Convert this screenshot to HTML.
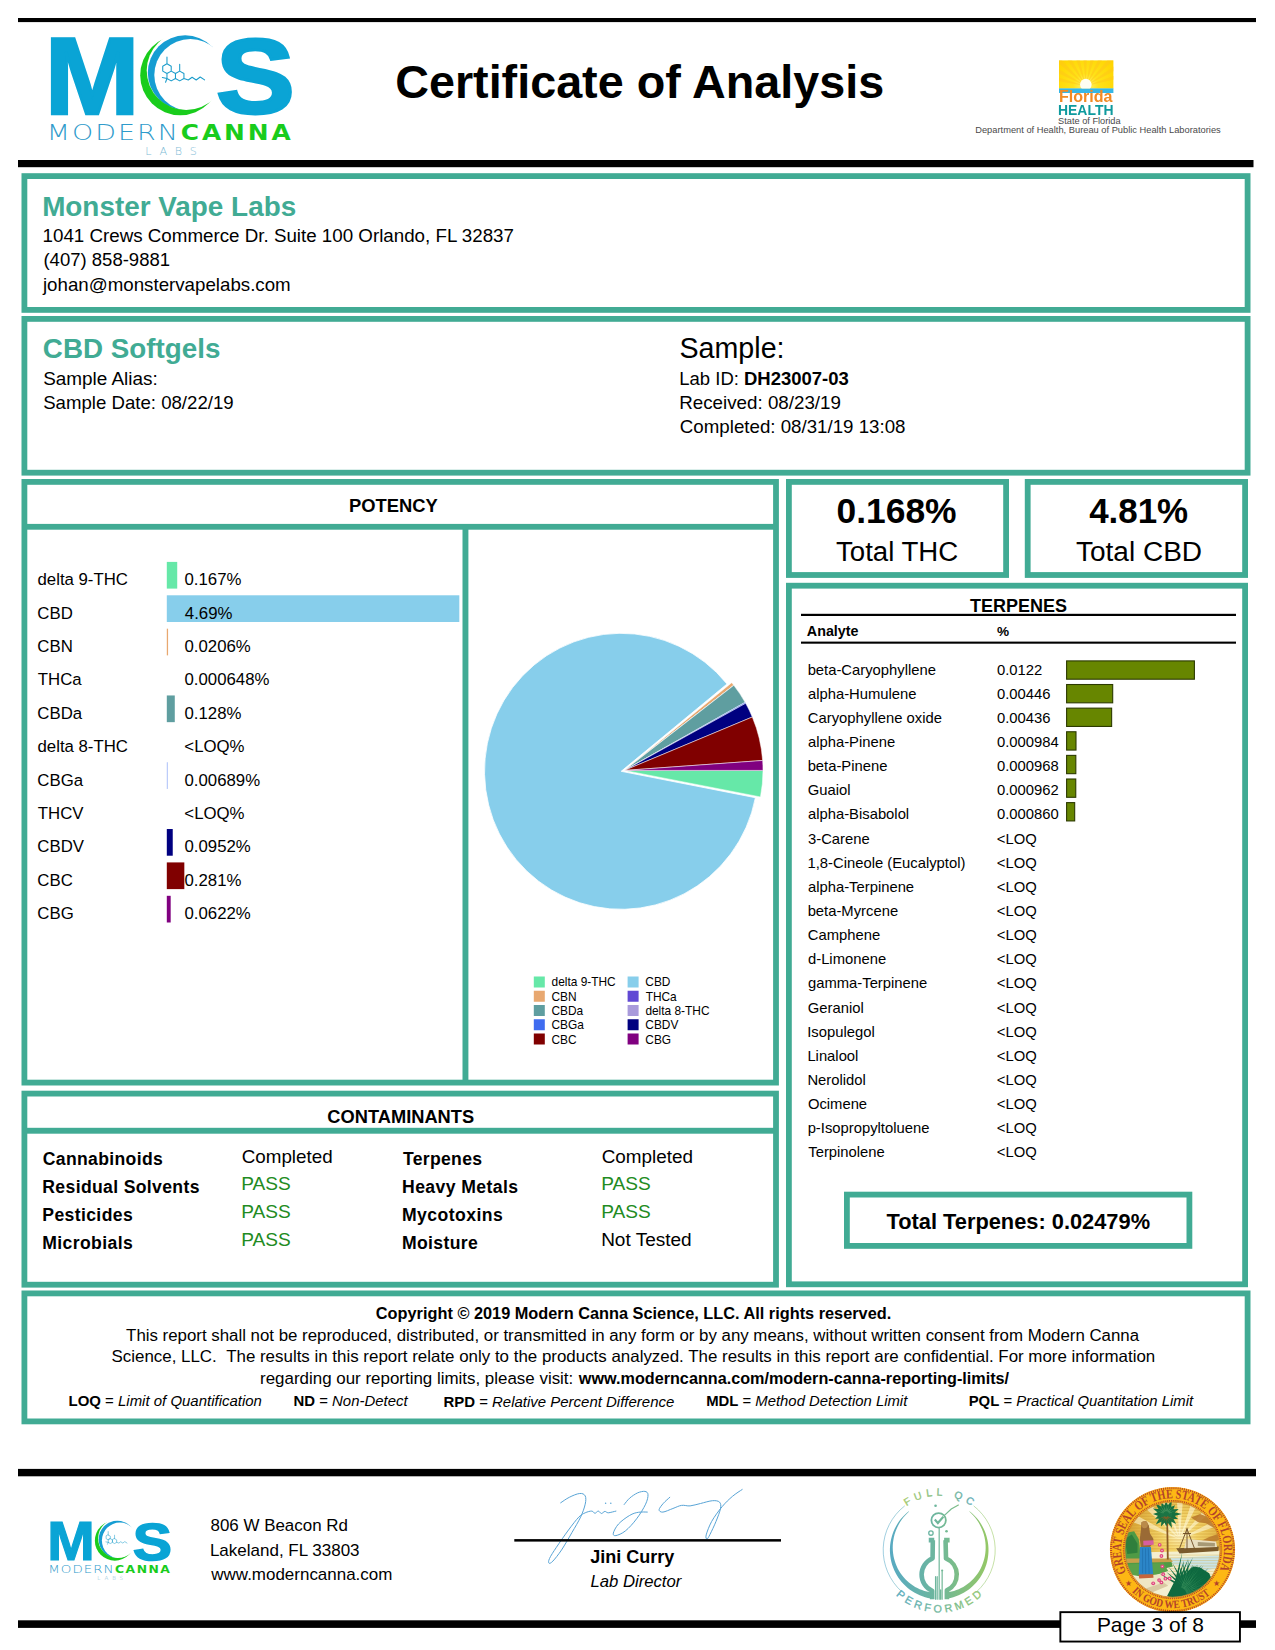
<!DOCTYPE html>
<html lang="en"><head><meta charset="utf-8"><title>Certificate of Analysis</title>
<style>
html,body{margin:0;padding:0;background:#fff;}
body{width:1275px;height:1650px;position:relative;overflow:hidden;font-family:"Liberation Sans",Arial,Helvetica,sans-serif;color:#000;}
.t{position:absolute;white-space:nowrap;line-height:1;}
.r{position:absolute;box-sizing:content-box;}
svg{position:absolute;left:0;top:0;overflow:visible;}
</style></head><body>
<svg width="1275" height="1650" viewBox="0 0 1275 1650">
<rect x="18.00" y="18.00" width="1238.00" height="4.10" fill="#000" />
<rect x="18.00" y="160.00" width="1235.50" height="7.20" fill="#000" />
<g transform="translate(0.00,0.00) scale(1)">
<text transform="translate(44.55,114.40) scale(1.0426,1)" font-size="109.74" font-weight="700" fill="#0aa4d5" stroke="#0aa4d5" stroke-width="2.4" stroke-linejoin="miter">M</text>
<text transform="translate(216.10,112.97) scale(1.1201,1)" font-size="105.51" font-weight="700" fill="#0aa4d5" stroke="#0aa4d5" stroke-width="3.0" stroke-linejoin="miter">S</text>
<defs><mask id="hmb"><rect x="100" y="20" width="140" height="110" fill="#fff"/><circle cx="190.36" cy="74.96" r="36.05" fill="#000"/></mask><mask id="hmg"><rect x="100" y="20" width="140" height="110" fill="#fff"/><circle cx="186.2" cy="70.6" r="39.5" fill="#000"/></mask></defs>
<circle cx="185.2" cy="72.7" r="37.4" fill="#169dd2" mask="url(#hmb)"/>
<circle cx="180.2" cy="75.2" r="40" fill="#19cc1c" mask="url(#hmg)"/>
<path d="M166.97,63.75 L171.21,66.20 L171.21,71.10 L166.97,73.55 L162.73,71.10 L162.73,66.20Z M171.21,71.10 L175.46,73.55 L175.46,78.45 L171.21,80.90 L166.97,78.45 L166.97,73.55Z M179.70,71.10 L183.94,73.55 L183.94,78.45 L179.70,80.90 L175.46,78.45 L175.46,73.55Z M166.97,63.75 V57.0 M179.70,71.10 V64.2 M166.97,78.45 L162.37,77.55 M166.97,78.45 L165.57,82.25 M183.94,78.45 L188.3,80 L192.1,77.3 L196.2,80 L200.2,77 L204.6,79.9" fill="none" stroke="#1a9ccb" stroke-width="1.05" stroke-linejoin="round" stroke-linecap="round"/>
<text transform="translate(46.78,139.9) scale(1.3,1)" font-family="'DejaVu Sans',sans-serif" font-weight="200" font-size="20.7" letter-spacing="1.55" fill="#2f9bcb">MODERN</text>
<text transform="translate(180.76,139.9) scale(1.2,1)" font-family="'DejaVu Sans',sans-serif" font-weight="700" font-size="20.7" letter-spacing="2.45" fill="#19cc1c">CANNA</text>
<text x="145.13" y="154.8" font-family="'DejaVu Sans',sans-serif" font-weight="200" font-size="11.2" letter-spacing="7.8" fill="#7fbcd6">LABS</text>
</g>
<g transform="translate(24.98,1503.21) scale(0.4985)">
<text transform="translate(44.55,114.40) scale(1.0426,1)" font-size="109.74" font-weight="700" fill="#0aa4d5" stroke="#0aa4d5" stroke-width="2.4" stroke-linejoin="miter">M</text>
<text transform="translate(216.10,112.97) scale(1.1201,1)" font-size="105.51" font-weight="700" fill="#0aa4d5" stroke="#0aa4d5" stroke-width="3.0" stroke-linejoin="miter">S</text>
<defs><mask id="fmb"><rect x="100" y="20" width="140" height="110" fill="#fff"/><circle cx="190.36" cy="74.96" r="36.05" fill="#000"/></mask><mask id="fmg"><rect x="100" y="20" width="140" height="110" fill="#fff"/><circle cx="186.2" cy="70.6" r="39.5" fill="#000"/></mask></defs>
<circle cx="185.2" cy="72.7" r="37.4" fill="#169dd2" mask="url(#fmb)"/>
<circle cx="180.2" cy="75.2" r="40" fill="#19cc1c" mask="url(#fmg)"/>
<path d="M166.97,63.75 L171.21,66.20 L171.21,71.10 L166.97,73.55 L162.73,71.10 L162.73,66.20Z M171.21,71.10 L175.46,73.55 L175.46,78.45 L171.21,80.90 L166.97,78.45 L166.97,73.55Z M179.70,71.10 L183.94,73.55 L183.94,78.45 L179.70,80.90 L175.46,78.45 L175.46,73.55Z M166.97,63.75 V57.0 M179.70,71.10 V64.2 M166.97,78.45 L162.37,77.55 M166.97,78.45 L165.57,82.25 M183.94,78.45 L188.3,80 L192.1,77.3 L196.2,80 L200.2,77 L204.6,79.9" fill="none" stroke="#1a9ccb" stroke-width="1.05" stroke-linejoin="round" stroke-linecap="round"/>
<text transform="translate(46.78,139.9) scale(1.3,1)" font-family="'DejaVu Sans',sans-serif" font-weight="200" font-size="20.7" letter-spacing="1.55" fill="#2f9bcb">MODERN</text>
<text transform="translate(180.76,139.9) scale(1.2,1)" font-family="'DejaVu Sans',sans-serif" font-weight="700" font-size="20.7" letter-spacing="2.45" fill="#19cc1c">CANNA</text>
<text x="145.13" y="154.8" font-family="'DejaVu Sans',sans-serif" font-weight="200" font-size="11.2" letter-spacing="7.8" fill="#7fbcd6">LABS</text>
</g>
<g>
<defs><clipPath id="fhc"><rect x="1059" y="60.4" width="54.4" height="32.4"/></clipPath><clipPath id="fhc2"><rect x="1059" y="60.4" width="54.4" height="28"/></clipPath><radialGradient id="fhg" cx="1085.8" cy="86" r="36" gradientUnits="userSpaceOnUse"><stop offset="0" stop-color="#fff27a"/><stop offset="0.35" stop-color="#ffe21a"/><stop offset="1" stop-color="#ffd400"/></radialGradient></defs>
<rect x="1059" y="60.4" width="54.4" height="28.2" fill="url(#fhg)"/>
<path d="M1085.8,86 L1026.7,75.6 L1028.4,68.5Z M1085.8,86 L1031.4,60.6 L1034.9,54.2Z M1085.8,86 L1039.8,47.4 L1044.9,42.1Z M1085.8,86 L1051.4,36.9 L1057.6,33.0Z M1085.8,86 L1065.3,29.6 L1072.3,27.5Z M1085.8,86 L1080.6,26.2 L1087.9,26.0Z M1085.8,86 L1096.2,26.9 L1103.3,28.6Z M1085.8,86 L1111.2,31.6 L1117.6,35.1Z M1085.8,86 L1124.4,40.0 L1129.7,45.1Z M1085.8,86 L1134.9,51.6 L1138.8,57.8Z M1085.8,86 L1142.2,65.5 L1144.3,72.5Z " fill="#ffc61a" opacity="0.55" clip-path="url(#fhc)"/>
<rect x="1059" y="88.4" width="54.4" height="4.6" fill="#35b6e6"/>
<circle cx="1085.8" cy="84.6" r="5.8" fill="#fffef2" clip-path="url(#fhc2)"/>
</g>
<g>
<defs><linearGradient id="qg" gradientUnits="userSpaceOnUse" x1="883.2" y1="0" x2="995.2" y2="0"><stop offset="0" stop-color="#55a8c8"/><stop offset="0.5" stop-color="#6fb79a"/><stop offset="1" stop-color="#9aca5e"/></linearGradient><linearGradient id="qg2" gradientUnits="userSpaceOnUse" x1="899.2" y1="0" x2="979.2" y2="0"><stop offset="0" stop-color="#a3c964"/><stop offset="0.55" stop-color="#7dba8a"/><stop offset="1" stop-color="#5aa9bd"/></linearGradient><path id="qtop" d="M884.80,1550.00 A54.4,54.4 0 0 1 993.60,1550.00"/><path id="qbot" d="M876.70,1550.00 A62.5,62.5 0 0 0 1001.70,1550.00"/></defs>
<path d="M901.73,1591.62 A56,56 0 0 1 904.72,1505.87 M973.68,1505.87 A56,56 0 0 1 976.67,1591.62" fill="none" stroke="url(#qg)" stroke-width="0.7" opacity="0.8"/>
<path d="M908.85,1511.15 L906.66,1512.96 L904.58,1514.90 L902.62,1516.95 L900.78,1519.11 L899.06,1521.37 L897.48,1523.73 L896.04,1526.17 L894.74,1528.70 L893.59,1531.29 L892.59,1533.95 L891.74,1536.66 L891.05,1539.41 L890.52,1542.20 L890.15,1545.02 L889.95,1547.85 L889.90,1550.69 L890.03,1553.52 L890.31,1556.35 L890.76,1559.15 L891.36,1561.93 L892.13,1564.66 L893.05,1567.35 L894.13,1569.97 L895.35,1572.53 L896.72,1575.02 L898.23,1577.43 L899.88,1579.74 L901.66,1581.95 L903.56,1584.06 L905.58,1586.06 L907.71,1587.93 L909.94,1589.68 L912.28,1591.30 L914.70,1592.78 L917.20,1594.12 L919.78,1595.31 L922.42,1596.36 L925.12,1597.25 L927.86,1597.98 L930.64,1598.55 L931.72,1592.45 L929.25,1592.07 L926.81,1591.55 L924.40,1590.90 L922.01,1590.10 L919.68,1589.16 L917.39,1588.09 L915.16,1586.88 L913.00,1585.54 L910.91,1584.08 L908.90,1582.49 L906.99,1580.78 L905.16,1578.97 L903.45,1577.04 L901.84,1575.01 L900.34,1572.89 L898.96,1570.68 L897.72,1568.38 L896.60,1566.01 L895.61,1563.58 L894.77,1561.08 L894.07,1558.53 L893.51,1555.93 L893.10,1553.30 L892.85,1550.65 L892.74,1547.97 L892.79,1545.29 L893.00,1542.60 L893.36,1539.92 L893.87,1537.26 L894.54,1534.62 L895.36,1532.02 L896.33,1529.46 L897.45,1526.95 L898.71,1524.50 L900.12,1522.12 L901.66,1519.82 L903.34,1517.59 L905.14,1515.46 L907.06,1513.42 L909.09,1511.47Z M969.55,1511.15 L971.74,1512.96 L973.82,1514.90 L975.78,1516.95 L977.62,1519.11 L979.34,1521.37 L980.92,1523.73 L982.36,1526.17 L983.66,1528.70 L984.81,1531.29 L985.81,1533.95 L986.66,1536.66 L987.35,1539.41 L987.88,1542.20 L988.25,1545.02 L988.45,1547.85 L988.50,1550.69 L988.37,1553.52 L988.09,1556.35 L987.64,1559.15 L987.04,1561.93 L986.27,1564.66 L985.35,1567.35 L984.27,1569.97 L983.05,1572.53 L981.68,1575.02 L980.17,1577.43 L978.52,1579.74 L976.74,1581.95 L974.84,1584.06 L972.82,1586.06 L970.69,1587.93 L968.46,1589.68 L966.12,1591.30 L963.70,1592.78 L961.20,1594.12 L958.62,1595.31 L955.98,1596.36 L953.28,1597.25 L950.54,1597.98 L947.76,1598.55 L946.68,1592.45 L949.15,1592.07 L951.59,1591.55 L954.00,1590.90 L956.39,1590.10 L958.72,1589.16 L961.01,1588.09 L963.24,1586.88 L965.40,1585.54 L967.49,1584.08 L969.50,1582.49 L971.41,1580.78 L973.24,1578.97 L974.95,1577.04 L976.56,1575.01 L978.06,1572.89 L979.44,1570.68 L980.68,1568.38 L981.80,1566.01 L982.79,1563.58 L983.63,1561.08 L984.33,1558.53 L984.89,1555.93 L985.30,1553.30 L985.55,1550.65 L985.66,1547.97 L985.61,1545.29 L985.40,1542.60 L985.04,1539.92 L984.53,1537.26 L983.86,1534.62 L983.04,1532.02 L982.07,1529.46 L980.95,1526.95 L979.69,1524.50 L978.28,1522.12 L976.74,1519.82 L975.06,1517.59 L973.26,1515.46 L971.34,1513.42 L969.31,1511.47Z" fill="url(#qg)"/>
<path d="M928.75,1540.17 L934.24,1540.17 M932.81,1540.17 L932.60,1557.36 L932.60,1558.36 A17.57,17.57 0 0 0 932.17,1590.76 L932.17,1599.14 M944.12,1540.17 L949.61,1540.17 M945.55,1540.17 L945.99,1557.46 L945.99,1558.46 A17.57,17.57 0 0 1 946.88,1590.44 L946.88,1599.14 " fill="none" stroke="url(#qg)" stroke-width="4.6" stroke-linejoin="round"/>
<path d="M939.18,1528.31 L939.18,1599.14 M944.67,1515.14 L951.26,1509.10 L958.39,1505.04 M935.55,1576.63 L935.55,1599.14 M937.20,1576.63 L937.20,1599.14 M940.61,1589.81 L940.61,1599.14 M942.14,1571.69 L942.14,1599.14 " fill="none" stroke="url(#qg)" stroke-width="1.2" stroke-linecap="round"/>
<circle cx="938.63" cy="1520.30" r="7.25" fill="none" stroke="url(#qg)" stroke-width="1.8"/>
<path d="M934.79,1519.53 L937.86,1523.04 L943.35,1516.78" fill="none" stroke="url(#qg)" stroke-width="2.1" stroke-linejoin="miter"/>
<circle cx="935.55" cy="1505.80" r="1.32" fill="url(#qg)"/>
<circle cx="946.53" cy="1531.28" r="1.32" fill="url(#qg)"/>
<circle cx="942.14" cy="1570.59" r="1.10" fill="url(#qg)"/>
<circle cx="930.94" cy="1533.04" r="2.20" fill="none" stroke="url(#qg)" stroke-width="1.3"/>
<text font-size="10.3" letter-spacing="4.3" fill="url(#qg2)" stroke="url(#qg2)" stroke-width="0.3" text-anchor="middle"><textPath href="#qtop" startOffset="51%">FULL QC</textPath></text>
<text font-size="10.8" letter-spacing="3.3" fill="url(#qg)" stroke="url(#qg)" stroke-width="0.3" text-anchor="middle"><textPath href="#qbot" startOffset="50.8%">PERFORMED</textPath></text>
</g>
<g>
<defs><clipPath id="fsc"><circle cx="1172.5" cy="1549.6" r="47.6"/></clipPath><radialGradient id="fsg" gradientUnits="userSpaceOnUse" cx="1179.6" cy="1533.5" r="50"><stop offset="0" stop-color="#fff6c8"/><stop offset="0.35" stop-color="#f3d56a"/><stop offset="1" stop-color="#d9a534"/></radialGradient><path id="fst" d="M1127.12,1573.73 A51.4,51.4 0 1 1 1217.88,1573.73"/><path id="fsb" d="M1121.75,1578.90 A58.6,58.6 0 0 0 1223.25,1578.90"/></defs>
<circle cx="1172.5" cy="1549.6" r="62.6" fill="#fdb714"/>
<circle cx="1172.5" cy="1549.6" r="61.4" fill="none" stroke="#b8472a" stroke-width="2" stroke-dasharray="1.1 1.0"/>
<circle cx="1172.5" cy="1549.6" r="48.8" fill="none" stroke="#b8472a" stroke-width="1.8" stroke-dasharray="1.0 0.9"/>
<g clip-path="url(#fsc)">
<circle cx="1172.5" cy="1549.6" r="48" fill="url(#fsg)"/>
<path d="M1122.5,1504.5 H1222.5 M1122.5,1507.4 H1222.5 M1122.5,1510.4 H1222.5 M1122.5,1513.3 H1222.5 M1122.5,1516.3 H1222.5 M1122.5,1519.2 H1222.5 M1122.5,1522.2 H1222.5 M1122.5,1525.1 H1222.5 M1122.5,1528.1 H1222.5 M1122.5,1531.1 H1222.5 M1122.5,1534.0 H1222.5 M1122.5,1537.0 H1222.5 M1122.5,1539.9 H1222.5 M1122.5,1542.9 H1222.5 M1122.5,1545.8 H1222.5 M1122.5,1548.8 H1222.5 " stroke="#c9922e" stroke-width="0.9" opacity="0.45"/>
<path d="M1179.6,1539.1 L1123.2,1518.6 L1127.1,1510.0Z M1179.6,1539.1 L1135.0,1499.0 L1141.8,1492.5Z M1179.6,1539.1 L1153.3,1485.2 L1162.1,1481.8Z M1179.6,1539.1 L1175.4,1479.3 L1184.8,1479.4Z M1179.6,1539.1 L1198.1,1482.1 L1206.8,1485.7Z M1179.6,1539.1 L1218.2,1493.2 L1224.9,1499.8Z M1179.6,1539.1 L1232.6,1511.0 L1236.3,1519.6Z " fill="#fffbe0" opacity="0.55"/>
<path d="M1191.0,1517.5 L1200.1,1514.1 L1209.2,1517.5 L1218.3,1525.5 L1213.7,1527.8 L1205.8,1523.2 L1197.8,1522.1Z" fill="#b6752a" opacity="0.85"/>
<path d="M1200.1,1541.4 L1209.2,1536.9 L1219.4,1533.5 L1220.6,1539.1 L1211.5,1543.7 L1202.4,1546.0Z" fill="#b6752a" opacity="0.8"/>
<path d="M1122.7,1552.8 L1222.8,1550.5 L1222.8,1605.1 L1122.7,1605.1Z" fill="#f4efcf"/>
<path d="M1168.2,1558.5 L1221.7,1555.1 L1221.7,1566.4 L1205.8,1571.0 L1172.8,1564.2Z" fill="#bfe0ea" opacity="0.8"/>
<path d="M1168.2,1555.1 H1222.5 M1168.2,1557.8 H1222.5 M1168.2,1560.5 H1222.5 M1168.2,1563.2 H1222.5 M1168.2,1566.0 H1222.5 M1168.2,1568.7 H1222.5 M1168.2,1571.4 H1222.5 M1168.2,1574.2 H1222.5 M1168.2,1576.9 H1222.5 " stroke="#d1b45c" stroke-width="0.7" opacity="0.6"/>
<path d="M1122.7,1533.5 L1134.1,1531.2 L1138.7,1539.1 L1139.8,1548.2 L1140.9,1559.6 L1159.1,1559.6 L1170.5,1558.5 L1172.8,1566.4 L1154.6,1571.0 L1137.5,1573.3 L1122.7,1571.0Z" fill="#4f9a45"/>
<path d="M1124.5,1539.1 L1131.8,1534.6 L1137.5,1543.7 L1137.5,1552.8 L1127.3,1553.9Z" fill="#2f7f3c"/>
<path d="M1126.2,1558.5 L1170.5,1558.5 L1172.8,1561.9 L1126.2,1563.0Z" fill="#c7a04a"/>
<path d="M1128.4,1564.2 L1163.7,1563.0 L1168.2,1571.0 L1147.8,1577.8 L1129.6,1574.4Z" fill="#5aa24a"/>
<path d="M1130.7,1577.8 L1147.8,1575.5 L1168.2,1573.3 L1172.8,1582.4 L1159.1,1589.2 L1145.5,1592.6 L1134.1,1585.8Z" fill="#efe6c4"/>
<path d="M1143.2,1589.2 L1163.7,1582.4 L1168.2,1585.8 L1148.9,1593.7Z" fill="#d9c9a2"/>
<path d="M1176.2,1548.2 L1218.8,1546.5 L1218.3,1551.1 L1179.6,1553.4Z" fill="#7a5a2c"/>
<path d="M1186.4,1539.1 L1216.0,1541.4 L1217.1,1547.1 L1184.2,1548.2Z" fill="#e9dfc0"/>
<path d="M1187.0,1527.8 L1187.0,1549.4 M1183.0,1533.5 L1191.0,1533.5 M1179.6,1548.2 L1187.0,1528.9 L1194.4,1548.2" fill="none" stroke="#6b4a22" stroke-width="0.9"/>
<path d="M1197.8,1542.0 L1214.9,1543.1 L1214.9,1546.5 L1197.8,1546.0Z" fill="#8a7a55" opacity="0.7"/>
<path d="M1166.3,1517.5 L1168.0,1517.5 L1168.7,1559.6 L1166.9,1559.6Z" fill="#8a5a22"/>
<circle cx="1166.2" cy="1514.1" r="8.5" fill="#1b7444"/>
<path d="M1172.1,1516.8 L1181.7,1514.1 L1172.1,1511.5Z M1170.7,1518.8 L1178.0,1519.0 L1172.7,1513.9Z M1168.5,1520.2 L1176.1,1524.0 L1172.3,1516.4Z M1166.0,1520.6 L1172.0,1528.1 L1170.9,1518.6Z M1163.5,1520.1 L1166.2,1526.5 L1168.8,1520.1Z M1161.5,1518.6 L1161.0,1526.6 L1166.4,1520.6Z M1160.1,1516.4 L1155.8,1524.5 L1163.9,1520.2Z M1159.7,1513.9 L1155.1,1518.7 L1161.7,1518.8Z M1160.3,1511.5 L1153.0,1514.1 L1160.3,1516.8Z M1161.7,1509.4 L1152.9,1508.6 L1159.7,1514.3Z M1163.9,1508.0 L1155.2,1503.2 L1160.1,1511.8Z M1166.4,1507.6 L1161.3,1502.3 L1161.5,1509.6Z M1168.8,1508.2 L1166.2,1500.2 L1163.5,1508.2Z M1170.9,1509.6 L1172.0,1500.2 L1166.0,1507.6Z M1172.3,1511.8 L1175.0,1505.3 L1168.5,1508.0Z M1172.7,1514.3 L1178.7,1508.9 L1170.7,1509.4Z " fill="#17703f"/>
<path d="M1166.8,1516.9 L1175.1,1519.4 L1167.2,1516.0Z M1166.5,1517.1 L1172.1,1521.7 L1167.2,1516.4Z M1166.1,1517.1 L1169.7,1524.1 L1167.0,1516.7Z M1165.7,1517.0 L1166.2,1525.4 L1166.7,1517.0Z M1165.4,1516.7 L1163.0,1523.4 L1166.3,1517.1Z M1165.2,1516.4 L1160.0,1522.0 L1165.9,1517.1Z M1165.2,1516.0 L1157.6,1519.2 L1165.5,1516.9Z " fill="#8a5a22" opacity="0.85"/>
<path d="M1163.6,1512.7 L1154.9,1510.0 L1163.2,1513.6Z M1164.1,1511.9 L1158.0,1507.8 L1163.5,1512.7Z M1164.9,1511.4 L1159.9,1505.1 L1164.1,1512.0Z M1165.8,1511.1 L1162.7,1502.9 L1164.8,1511.4Z M1166.7,1511.2 L1166.2,1504.0 L1165.7,1511.2Z M1167.5,1511.4 L1169.4,1503.8 L1166.6,1511.1Z M1168.3,1512.0 L1172.8,1504.7 L1167.5,1511.4Z M1168.8,1512.7 L1174.0,1508.1 L1168.2,1511.9Z M1169.1,1513.6 L1176.1,1510.5 L1168.8,1512.7Z " fill="#54a066" opacity="0.7"/>
<path d="M1141.5,1522.1 L1146.1,1520.9 L1148.9,1525.5 L1150.0,1533.5 L1153.5,1539.1 L1152.3,1543.7 L1150.0,1547.1 L1140.9,1547.1 L1139.8,1539.1 L1140.9,1530.0Z" fill="#9a6a35"/>
<ellipse cx="1144.6" cy="1524.6" rx="3.2" ry="3.6" fill="#b98a4a"/>
<path d="M1143.2,1540.8 L1153.5,1540.3 L1153.7,1544.8 L1143.4,1545.4Z" fill="#d65fa0"/>
<path d="M1140.0,1547.1 L1150.9,1546.9 L1153.2,1574.4 L1138.7,1575.0Z" fill="#2c86c8"/>
<path d="M1138.7,1574.6 L1153.2,1574.2 L1153.5,1577.8 L1139.2,1578.5Z" fill="#c8643a"/>
<path d="M1142.6,1548.2 L1142.6,1573.3 M1145.5,1548.2 L1145.7,1573.8 M1148.3,1548.2 L1149.1,1573.8" stroke="#1d6aa8" stroke-width="0.6" fill="none"/>
<path d="M1167.1,1596.0 L1173.9,1582.4 L1184.2,1574.4 L1193.3,1566.4 L1200.1,1567.6 L1209.2,1573.3 L1212.0,1580.1 L1205.8,1586.9 L1196.7,1594.9 L1186.4,1598.8 L1175.1,1600.0Z" fill="#0f6a40"/>
<path d="M1177.0,1583.8 L1182.3,1552.1 L1174.3,1583.2Z M1178.2,1584.2 L1184.2,1559.9 L1175.5,1583.4Z M1179.3,1584.7 L1188.5,1558.2 L1176.7,1583.7Z M1180.4,1585.4 L1193.2,1557.1 L1177.9,1584.1Z M1181.4,1586.1 L1192.9,1565.0 L1179.0,1584.6Z M1182.3,1586.9 L1197.4,1564.4 L1180.1,1585.2Z M1183.1,1587.7 L1202.2,1564.5 L1181.1,1585.9Z M1183.9,1588.7 L1199.8,1572.0 L1182.0,1586.6Z M1184.6,1589.7 L1204.2,1572.6 L1182.9,1587.5Z M1185.2,1590.7 L1208.8,1573.7 L1183.7,1588.4Z M1185.7,1591.8 L1213.4,1575.5 L1184.4,1589.4Z M1186.2,1593.0 L1208.6,1581.9 L1185.1,1590.4Z M1186.5,1594.2 L1212.7,1584.2 L1185.6,1591.5Z M1186.7,1595.4 L1216.6,1587.0 L1186.0,1592.6Z M1186.8,1596.6 L1210.3,1591.9 L1186.4,1593.8Z " fill="#0f6a40"/>
<path d="M1180.2,1584.1 L1159.6,1573.7 L1179.0,1586.3Z M1181.3,1583.1 L1166.2,1571.8 L1179.6,1585.0Z M1182.5,1582.2 L1168.6,1566.9 L1180.5,1583.8Z M1183.8,1581.6 L1172.1,1562.4 L1181.6,1582.8Z M1185.3,1581.3 L1178.6,1564.3 L1182.8,1582.0Z M1186.8,1581.2 L1183.1,1561.5 L1184.2,1581.5Z M1188.2,1581.4 L1188.4,1559.5 L1185.7,1581.2Z M1189.6,1581.8 L1192.7,1564.6 L1187.2,1581.2Z M1190.9,1582.6 L1198.0,1564.5 L1188.6,1581.5Z M1192.1,1583.5 L1203.4,1565.5 L1190.0,1582.0Z M1193.0,1584.6 L1208.8,1567.7 L1191.3,1582.8Z M1193.7,1585.9 L1208.8,1574.6 L1192.4,1583.8Z M1194.2,1587.3 L1212.8,1578.3 L1193.2,1585.0Z M1194.4,1588.8 L1216.2,1582.9 L1193.9,1586.3Z M1194.4,1590.3 L1212.5,1588.6 L1194.3,1587.7Z M1194.0,1591.7 L1214.0,1593.7 L1194.4,1589.2Z M1193.4,1593.1 L1214.4,1599.4 L1194.3,1590.7Z " fill="#0f6a40"/>
<path d="M1181.8,1587.7 L1191.1,1561.3 L1181.3,1587.5Z M1182.5,1588.1 L1191.2,1569.5 L1182.0,1587.8Z M1183.2,1588.5 L1195.4,1568.2 L1182.7,1588.2Z M1183.9,1589.0 L1200.0,1567.4 L1183.4,1588.6Z M1184.5,1589.5 L1197.5,1575.2 L1184.1,1589.1Z M1185.0,1590.1 L1201.9,1575.1 L1184.6,1589.7Z M1185.5,1590.8 L1206.4,1575.6 L1185.2,1590.3Z M1185.9,1591.5 L1201.7,1582.2 L1185.6,1591.0Z M1186.2,1592.2 L1205.8,1583.3 L1186.0,1591.7Z M1186.5,1593.0 L1210.0,1585.1 L1186.3,1592.4Z M1186.7,1593.8 L1214.0,1587.7 L1186.5,1593.2Z " fill="#58ad72" opacity="0.6"/>
<path d="M1182.7,1585.9 L1166.5,1572.5 L1182.5,1586.1Z M1183.5,1585.1 L1173.4,1572.2 L1183.3,1585.3Z M1184.5,1584.6 L1176.5,1568.0 L1184.2,1584.7Z M1185.5,1584.3 L1180.9,1564.4 L1185.2,1584.3Z M1186.6,1584.2 L1186.4,1568.4 L1186.3,1584.2Z M1187.7,1584.3 L1191.4,1567.0 L1187.4,1584.3Z M1188.7,1584.7 L1196.9,1566.8 L1188.4,1584.6Z M1189.6,1585.3 L1198.7,1573.2 L1189.4,1585.1Z M1190.4,1586.1 L1203.4,1575.0 L1190.2,1585.9Z M1190.9,1587.0 L1207.8,1578.1 L1190.8,1586.7Z M1191.3,1588.0 L1211.5,1582.4 L1191.2,1587.7Z M1191.4,1589.1 L1207.9,1588.2 L1191.4,1588.8Z M1191.3,1590.2 L1209.5,1593.2 L1191.4,1589.9Z " fill="#58ad72" opacity="0.55"/>
<circle cx="1159.7" cy="1544.8" r="1.9" fill="#e0467e"/><circle cx="1159.7" cy="1544.8" r="0.7" fill="#f9c9d8"/>
<circle cx="1162.0" cy="1550.5" r="1.9" fill="#e0467e"/><circle cx="1162.0" cy="1550.5" r="0.7" fill="#f9c9d8"/>
<circle cx="1161.4" cy="1556.0" r="1.9" fill="#e0467e"/><circle cx="1161.4" cy="1556.0" r="0.7" fill="#f9c9d8"/>
<circle cx="1162.3" cy="1566.4" r="1.9" fill="#e0467e"/><circle cx="1162.3" cy="1566.4" r="0.7" fill="#f9c9d8"/>
<circle cx="1163.2" cy="1574.2" r="1.9" fill="#e0467e"/><circle cx="1163.2" cy="1574.2" r="0.7" fill="#f9c9d8"/>
<circle cx="1159.1" cy="1580.1" r="1.9" fill="#e0467e"/><circle cx="1159.1" cy="1580.1" r="0.7" fill="#f9c9d8"/>
<circle cx="1165.4" cy="1578.7" r="1.9" fill="#e0467e"/><circle cx="1165.4" cy="1578.7" r="0.7" fill="#f9c9d8"/>
<circle cx="1169.6" cy="1578.5" r="1.9" fill="#e0467e"/><circle cx="1169.6" cy="1578.5" r="0.7" fill="#f9c9d8"/>
<circle cx="1153.2" cy="1583.3" r="1.9" fill="#e0467e"/><circle cx="1153.2" cy="1583.3" r="0.7" fill="#f9c9d8"/>
<circle cx="1161.4" cy="1582.4" r="1.9" fill="#e0467e"/><circle cx="1161.4" cy="1582.4" r="0.7" fill="#f9c9d8"/>
</g>
<circle cx="1172.5" cy="1549.6" r="47.6" fill="none" stroke="#c9822a" stroke-width="0.8"/>
<text font-family="'Liberation Serif',serif" font-weight="700" font-size="13" fill="#b2432a" textLength="205" lengthAdjust="spacingAndGlyphs"><textPath href="#fst" startOffset="1.5" textLength="205" lengthAdjust="spacingAndGlyphs">GREAT SEAL OF THE STATE OF FLORIDA</textPath></text>
<text font-family="'Liberation Serif',serif" font-weight="700" font-size="11.3" fill="#b2432a" textLength="86" lengthAdjust="spacingAndGlyphs"><textPath href="#fsb" startOffset="16.4" textLength="86" lengthAdjust="spacingAndGlyphs">IN GOD WE TRUST</textPath></text>
<text x="1128.1" y="1585.5" font-size="8" fill="#b2432a" text-anchor="middle">★</text>
<text x="1216.6" y="1585.5" font-size="8" fill="#b2432a" text-anchor="middle">★</text>
</g>
<rect x="24.40" y="176.10" width="1223.20" height="133.80" fill="none" stroke="#41ab94" stroke-width="5.8"/>
<rect x="24.40" y="318.90" width="1223.20" height="153.80" fill="none" stroke="#41ab94" stroke-width="5.8"/>
<rect x="24.40" y="481.90" width="751.60" height="600.70" fill="none" stroke="#41ab94" stroke-width="5.8"/>
<rect x="24.00" y="523.90" width="752.00" height="5.80" fill="#41ab94" />
<rect x="462.50" y="526.00" width="5.90" height="557.00" fill="#41ab94" />
<rect x="166.80" y="561.90" width="10.42" height="26.70" fill="#66e8a8" />
<rect x="166.80" y="595.29" width="292.52" height="26.70" fill="#87ceeb" />
<rect x="166.80" y="628.68" width="1.28" height="26.70" fill="#e8a870" />
<rect x="166.80" y="695.46" width="7.98" height="26.70" fill="#5f9ea0" />
<rect x="166.80" y="762.24" width="1.00" height="26.70" fill="#3f6cf0" opacity="0.43"/>
<rect x="166.80" y="829.02" width="5.94" height="26.70" fill="#000080" />
<rect x="166.80" y="862.41" width="17.53" height="26.70" fill="#800000" />
<rect x="166.80" y="895.80" width="3.88" height="26.70" fill="#800080" />
<path d="M624.4,770.4 L763.00,770.40 A138.6,138.6 0 0 1 760.44,796.91 Z" fill="#66e8a8" stroke="#fff" stroke-width="0.5" stroke-linejoin="round"/>
<path d="M621.2,771.3 L755.38,797.70 A136.7,138.0 0 1 1 727.04,683.97 Z" fill="#87ceeb" stroke="#fff" stroke-width="0.8" stroke-linejoin="round"/>
<path d="M624.4,770.4 L731.71,682.69 A138.6,138.6 0 0 1 733.77,685.26 Z" fill="#e8a870" stroke="#fff" stroke-width="0.5" stroke-linejoin="round"/>
<path d="M624.4,770.4 L733.77,685.26 A138.6,138.6 0 0 1 733.83,685.34 Z" fill="#6149d4" stroke="#fff" stroke-width="0.5" stroke-linejoin="round"/>
<path d="M624.4,770.4 L733.83,685.34 A138.6,138.6 0 0 1 745.14,702.35 Z" fill="#5f9ea0" stroke="#fff" stroke-width="0.5" stroke-linejoin="round"/>
<path d="M624.4,770.4 L745.14,702.35 A138.6,138.6 0 0 1 745.68,703.31 Z" fill="#3f6cf0" stroke="#fff" stroke-width="0.5" stroke-linejoin="round"/>
<path d="M624.4,770.4 L745.68,703.31 A138.6,138.6 0 0 1 752.30,716.99 Z" fill="#000080" stroke="#fff" stroke-width="0.5" stroke-linejoin="round"/>
<path d="M624.4,770.4 L752.30,716.99 A138.6,138.6 0 0 1 762.64,760.47 Z" fill="#800000" stroke="#fff" stroke-width="0.5" stroke-linejoin="round"/>
<path d="M624.4,770.4 L762.64,760.47 A138.6,138.6 0 0 1 763.00,770.40 Z" fill="#800080" stroke="#fff" stroke-width="0.5" stroke-linejoin="round"/>
<rect x="533.80" y="976.50" width="11.00" height="11.00" fill="#66e8a8" />
<rect x="627.60" y="976.50" width="11.00" height="11.00" fill="#87ceeb" />
<rect x="533.80" y="990.75" width="11.00" height="11.00" fill="#e8a870" />
<rect x="627.60" y="990.75" width="11.00" height="11.00" fill="#6149d4" />
<rect x="533.80" y="1005.00" width="11.00" height="11.00" fill="#5f9ea0" />
<rect x="627.60" y="1005.00" width="11.00" height="11.00" fill="#a99bdb" />
<rect x="533.80" y="1019.25" width="11.00" height="11.00" fill="#3f6cf0" />
<rect x="627.60" y="1019.25" width="11.00" height="11.00" fill="#000080" />
<rect x="533.80" y="1033.50" width="11.00" height="11.00" fill="#800000" />
<rect x="627.60" y="1033.50" width="11.00" height="11.00" fill="#800080" />
<rect x="788.90" y="481.90" width="217.20" height="93.10" fill="none" stroke="#41ab94" stroke-width="5.8"/>
<rect x="1027.70" y="481.90" width="217.40" height="93.10" fill="none" stroke="#41ab94" stroke-width="5.8"/>
<rect x="788.90" y="585.70" width="456.20" height="698.60" fill="none" stroke="#41ab94" stroke-width="5.8"/>
<rect x="801.00" y="613.80" width="435.00" height="2.20" fill="#000" />
<rect x="801.00" y="641.60" width="435.00" height="2.10" fill="#000" />
<rect x="1066.60" y="660.90" width="127.80" height="18.30" fill="#678600" stroke="#2c3a00" stroke-width="1.1"/>
<rect x="1066.60" y="684.52" width="46.09" height="18.30" fill="#678600" stroke="#2c3a00" stroke-width="1.1"/>
<rect x="1066.60" y="708.14" width="45.03" height="18.30" fill="#678600" stroke="#2c3a00" stroke-width="1.1"/>
<rect x="1066.60" y="731.76" width="9.39" height="18.30" fill="#678600" stroke="#2c3a00" stroke-width="1.1"/>
<rect x="1066.60" y="755.38" width="9.22" height="18.30" fill="#678600" stroke="#2c3a00" stroke-width="1.1"/>
<rect x="1066.60" y="779.00" width="9.16" height="18.30" fill="#678600" stroke="#2c3a00" stroke-width="1.1"/>
<rect x="1066.60" y="802.62" width="8.08" height="18.30" fill="#678600" stroke="#2c3a00" stroke-width="1.1"/>
<rect x="846.90" y="1194.60" width="342.50" height="51.30" fill="none" stroke="#41ab94" stroke-width="5.8"/>
<rect x="24.40" y="1093.60" width="751.60" height="191.10" fill="none" stroke="#41ab94" stroke-width="5.8"/>
<rect x="24.00" y="1127.80" width="752.00" height="5.90" fill="#41ab94" />
<rect x="24.40" y="1293.40" width="1223.20" height="128.00" fill="none" stroke="#41ab94" stroke-width="5.8"/>
<rect x="18.00" y="1468.90" width="1238.00" height="7.40" fill="#000" />
<rect x="18.00" y="1620.30" width="1238.00" height="7.60" fill="#000" />
<path d="M560.7,1502.8 C562.1,1501.9 566.2,1498.8 569.3,1497.3 C572.5,1495.7 577.0,1493.7 579.7,1493.5 C582.3,1493.2 584.3,1494.1 585.2,1495.9 C586.1,1497.7 586.0,1500.6 585.2,1504.2 C584.4,1507.7 582.8,1512.4 580.6,1517.1 C578.3,1521.8 575.1,1527.2 571.9,1532.6 C568.8,1538.1 564.7,1545.1 561.6,1549.9 C558.4,1554.6 555.0,1558.9 552.9,1561.1 C550.8,1563.3 549.5,1563.6 549.0,1563.2 C548.4,1562.7 548.3,1561.2 549.5,1558.5 C550.7,1555.9 553.2,1552.0 556.4,1547.3 C559.6,1542.6 564.7,1535.1 568.5,1530.0 C572.2,1525.0 576.0,1520.0 578.8,1517.1 C581.6,1514.2 583.1,1513.8 585.2,1512.8 C587.4,1511.8 590.2,1511.0 591.8,1511.1 C593.4,1511.1 593.8,1513.3 594.9,1513.3 C596.0,1513.3 597.2,1511.0 598.3,1511.1 C599.4,1511.1 600.3,1513.4 601.4,1513.5 C602.5,1513.5 603.7,1511.5 604.9,1511.4 C606.0,1511.3 606.5,1512.8 608.3,1512.8 C610.2,1512.7 614.7,1511.3 615.9,1511.1 M624.2,1504.5 C625.1,1503.4 627.5,1500.0 629.7,1498.1 C631.9,1496.2 635.0,1494.1 637.5,1492.9 C640.0,1491.8 643.2,1491.1 644.9,1491.4 C646.7,1491.7 647.9,1492.5 648.0,1494.7 C648.1,1496.8 647.5,1500.1 645.6,1504.2 C643.7,1508.2 640.0,1514.4 636.6,1518.8 C633.3,1523.3 628.9,1528.1 625.4,1530.9 C622.0,1533.7 617.9,1535.2 615.9,1535.6 C613.9,1535.9 612.9,1535.1 613.3,1533.1 C613.8,1531.2 615.8,1527.0 618.5,1524.0 C621.2,1521.0 626.4,1517.3 629.7,1515.4 C633.0,1513.4 635.4,1512.8 638.4,1512.3 C641.3,1511.7 645.8,1512.1 647.3,1512.1 M669.8,1497.3 C668.7,1498.3 665.2,1501.2 663.4,1503.3 C661.6,1505.4 659.2,1508.2 659.1,1509.7 C659.0,1511.1 660.6,1512.3 662.9,1512.1 C665.2,1511.9 669.8,1509.6 672.9,1508.5 C676.0,1507.4 678.6,1505.8 681.5,1505.4 C684.4,1504.9 687.0,1506.2 690.1,1505.9 C693.3,1505.6 696.7,1504.3 700.5,1503.5 C704.2,1502.6 709.4,1500.9 712.6,1500.7 C715.7,1500.5 718.1,1500.8 719.5,1502.1 C720.8,1503.4 721.1,1505.3 720.5,1508.5 C719.9,1511.7 717.8,1517.1 716.0,1521.4 C714.3,1525.7 711.5,1531.4 710.0,1534.4 C708.5,1537.3 707.7,1538.9 707.0,1539.0 C706.4,1539.1 705.4,1537.8 706.2,1534.9 C707.0,1531.9 709.1,1526.1 711.7,1521.4 C714.3,1516.7 718.6,1510.9 722.1,1506.7 C725.5,1502.6 729.0,1499.3 732.4,1496.4 C735.8,1493.5 740.6,1490.6 742.2,1489.5" fill="none" stroke="#58a4d6" stroke-width="1.0" stroke-linecap="round" stroke-linejoin="round"/><circle cx="605.6" cy="1503.3" r="0.75" fill="#58a4d6"/><circle cx="610.8" cy="1503.3" r="0.75" fill="#58a4d6"/>
<rect x="514.30" y="1539.10" width="266.70" height="2.50" fill="#000" />
<rect x="1060.35" y="1612.15" width="179.6" height="29.4" fill="#fff" stroke="#000" stroke-width="1.9"/>
</svg>
<span class="t" style="left:395.18px;top:59px;font-size:46.73px;font-weight:700;">Certificate of Analysis</span>
<span class="t" style="left:1058.8px;top:89px;font-size:15.8px;font-weight:700;color:#f08a24;transform-origin:0 0;transform:scaleX(1.017);">Florida</span>
<span class="t" style="left:1058.3px;top:102px;font-size:15.2px;font-weight:700;color:#0f9a9e;transform-origin:0 0;transform:scaleX(0.917);">HEALTH</span>
<span class="t" style="left:1058.08px;top:117px;font-size:9.22px;color:#4a4a4a;">State of Florida</span>
<span class="t" style="left:975.24px;top:126px;font-size:9.31px;color:#4a4a4a;">Department of Health, Bureau of Public Health Laboratories</span>
<span class="t" style="left:42.13px;top:193px;font-size:27.89px;font-weight:700;color:#41ab94;">Monster Vape Labs</span>
<span class="t" style="left:42.57px;top:227px;font-size:18.75px;">1041 Crews Commerce Dr. Suite 100 Orlando, FL 32837</span>
<span class="t" style="left:43.45px;top:251px;font-size:18.52px;">(407) 858-9881</span>
<span class="t" style="left:42.96px;top:276px;font-size:18.72px;">johan@monstervapelabs.com</span>
<span class="t" style="left:42.86px;top:335px;font-size:27.81px;font-weight:700;color:#41ab94;">CBD Softgels</span>
<span class="t" style="left:43.14px;top:370px;font-size:18.93px;">Sample Alias:</span>
<span class="t" style="left:43.15px;top:394px;font-size:18.64px;">Sample Date: 08/22/19</span>
<span class="t" style="left:679.50px;top:334px;font-size:28.63px;">Sample:</span>
<span class="t" style="left:679.28px;top:370px;font-size:18.49px;">Lab ID: <b>DH23007-03</b></span>
<span class="t" style="left:679.26px;top:394px;font-size:18.78px;">Received: 08/23/19</span>
<span class="t" style="left:679.85px;top:418px;font-size:18.72px;">Completed: 08/31/19 13:08</span>
<span class="t" style="left:348.97px;top:497px;font-size:18.38px;font-weight:700;">POTENCY</span>
<span class="t" style="left:37.49px;top:572px;font-size:16.80px;">delta 9-THC</span>
<span class="t" style="left:184.54px;top:572px;font-size:16.80px;">0.167%</span>
<span class="t" style="left:37.35px;top:606px;font-size:16.80px;">CBD</span>
<span class="t" style="left:184.81px;top:606px;font-size:16.80px;">4.69%</span>
<span class="t" style="left:37.35px;top:639px;font-size:16.80px;">CBN</span>
<span class="t" style="left:184.54px;top:639px;font-size:16.80px;">0.0206%</span>
<span class="t" style="left:37.82px;top:672px;font-size:16.80px;">THCa</span>
<span class="t" style="left:184.54px;top:672px;font-size:16.80px;">0.000648%</span>
<span class="t" style="left:37.35px;top:706px;font-size:16.80px;">CBDa</span>
<span class="t" style="left:184.54px;top:706px;font-size:16.80px;">0.128%</span>
<span class="t" style="left:37.49px;top:739px;font-size:16.80px;">delta 8-THC</span>
<span class="t" style="left:184.37px;top:739px;font-size:16.80px;">&lt;LOQ%</span>
<span class="t" style="left:37.35px;top:773px;font-size:16.80px;">CBGa</span>
<span class="t" style="left:184.54px;top:773px;font-size:16.80px;">0.00689%</span>
<span class="t" style="left:37.82px;top:806px;font-size:16.80px;">THCV</span>
<span class="t" style="left:184.37px;top:806px;font-size:16.80px;">&lt;LOQ%</span>
<span class="t" style="left:37.35px;top:839px;font-size:16.80px;">CBDV</span>
<span class="t" style="left:184.54px;top:839px;font-size:16.80px;">0.0952%</span>
<span class="t" style="left:37.35px;top:873px;font-size:16.80px;">CBC</span>
<span class="t" style="left:184.54px;top:873px;font-size:16.80px;">0.281%</span>
<span class="t" style="left:37.35px;top:906px;font-size:16.80px;">CBG</span>
<span class="t" style="left:184.54px;top:906px;font-size:16.80px;">0.0622%</span>
<span class="t" style="left:551.60px;top:977px;font-size:11.90px;">delta 9-THC</span>
<span class="t" style="left:645.30px;top:977px;font-size:11.90px;">CBD</span>
<span class="t" style="left:551.50px;top:992px;font-size:11.90px;">CBN</span>
<span class="t" style="left:645.63px;top:992px;font-size:11.90px;">THCa</span>
<span class="t" style="left:551.50px;top:1006px;font-size:11.90px;">CBDa</span>
<span class="t" style="left:645.40px;top:1006px;font-size:11.90px;">delta 8-THC</span>
<span class="t" style="left:551.50px;top:1020px;font-size:11.90px;">CBGa</span>
<span class="t" style="left:645.30px;top:1020px;font-size:11.90px;">CBDV</span>
<span class="t" style="left:551.50px;top:1035px;font-size:11.90px;">CBC</span>
<span class="t" style="left:645.30px;top:1035px;font-size:11.90px;">CBG</span>
<span class="t" style="left:836.50px;top:494px;font-size:35.42px;font-weight:700;">0.168%</span>
<span class="t" style="left:835.98px;top:538px;font-size:27.62px;">Total THC</span>
<span class="t" style="left:1089.17px;top:494px;font-size:34.93px;font-weight:700;">4.81%</span>
<span class="t" style="left:1075.97px;top:538px;font-size:28.03px;">Total CBD</span>
<span class="t" style="left:970.00px;top:597px;font-size:18.00px;font-weight:700;">TERPENES</span>
<span class="t" style="left:806.84px;top:624px;font-size:14.30px;font-weight:700;">Analyte</span>
<span class="t" style="left:997.06px;top:625px;font-size:13.60px;font-weight:700;">%</span>
<span class="t" style="left:807.65px;top:663px;font-size:14.80px;">beta-Caryophyllene</span>
<span class="t" style="left:997.02px;top:663px;font-size:14.80px;">0.0122</span>
<span class="t" style="left:807.97px;top:687px;font-size:14.80px;">alpha-Humulene</span>
<span class="t" style="left:997.02px;top:687px;font-size:14.80px;">0.00446</span>
<span class="t" style="left:807.85px;top:711px;font-size:14.80px;">Caryophyllene oxide</span>
<span class="t" style="left:997.02px;top:711px;font-size:14.80px;">0.00436</span>
<span class="t" style="left:807.97px;top:735px;font-size:14.80px;">alpha-Pinene</span>
<span class="t" style="left:997.02px;top:735px;font-size:14.80px;">0.000984</span>
<span class="t" style="left:807.65px;top:759px;font-size:14.80px;">beta-Pinene</span>
<span class="t" style="left:997.02px;top:759px;font-size:14.80px;">0.000968</span>
<span class="t" style="left:807.86px;top:783px;font-size:14.80px;">Guaiol</span>
<span class="t" style="left:997.02px;top:783px;font-size:14.80px;">0.000962</span>
<span class="t" style="left:807.97px;top:807px;font-size:14.80px;">alpha-Bisabolol</span>
<span class="t" style="left:997.02px;top:807px;font-size:14.80px;">0.000860</span>
<span class="t" style="left:808.04px;top:832px;font-size:14.80px;">3-Carene</span>
<span class="t" style="left:996.87px;top:832px;font-size:14.80px;">&lt;LOQ</span>
<span class="t" style="left:807.47px;top:856px;font-size:14.80px;">1,8-Cineole (Eucalyptol)</span>
<span class="t" style="left:996.87px;top:856px;font-size:14.80px;">&lt;LOQ</span>
<span class="t" style="left:807.97px;top:880px;font-size:14.80px;">alpha-Terpinene</span>
<span class="t" style="left:996.87px;top:880px;font-size:14.80px;">&lt;LOQ</span>
<span class="t" style="left:807.65px;top:904px;font-size:14.80px;">beta-Myrcene</span>
<span class="t" style="left:996.87px;top:904px;font-size:14.80px;">&lt;LOQ</span>
<span class="t" style="left:807.85px;top:928px;font-size:14.80px;">Camphene</span>
<span class="t" style="left:996.87px;top:928px;font-size:14.80px;">&lt;LOQ</span>
<span class="t" style="left:807.98px;top:952px;font-size:14.80px;">d-Limonene</span>
<span class="t" style="left:996.87px;top:952px;font-size:14.80px;">&lt;LOQ</span>
<span class="t" style="left:807.98px;top:976px;font-size:14.80px;">gamma-Terpinene</span>
<span class="t" style="left:996.87px;top:976px;font-size:14.80px;">&lt;LOQ</span>
<span class="t" style="left:807.86px;top:1001px;font-size:14.80px;">Geraniol</span>
<span class="t" style="left:996.87px;top:1001px;font-size:14.80px;">&lt;LOQ</span>
<span class="t" style="left:807.23px;top:1025px;font-size:14.80px;">Isopulegol</span>
<span class="t" style="left:996.87px;top:1025px;font-size:14.80px;">&lt;LOQ</span>
<span class="t" style="left:807.39px;top:1049px;font-size:14.80px;">Linalool</span>
<span class="t" style="left:996.87px;top:1049px;font-size:14.80px;">&lt;LOQ</span>
<span class="t" style="left:807.39px;top:1073px;font-size:14.80px;">Nerolidol</span>
<span class="t" style="left:996.87px;top:1073px;font-size:14.80px;">&lt;LOQ</span>
<span class="t" style="left:807.90px;top:1097px;font-size:14.80px;">Ocimene</span>
<span class="t" style="left:996.87px;top:1097px;font-size:14.80px;">&lt;LOQ</span>
<span class="t" style="left:807.65px;top:1121px;font-size:14.80px;">p-Isopropyltoluene</span>
<span class="t" style="left:996.87px;top:1121px;font-size:14.80px;">&lt;LOQ</span>
<span class="t" style="left:808.27px;top:1145px;font-size:14.80px;">Terpinolene</span>
<span class="t" style="left:996.87px;top:1145px;font-size:14.80px;">&lt;LOQ</span>
<span class="t" style="left:886.55px;top:1211px;font-size:21.82px;font-weight:700;">Total Terpenes: 0.02479%</span>
<span class="t" style="left:327.35px;top:1108px;font-size:18.28px;font-weight:700;">CONTAMINANTS</span>
<span class="t" style="left:42.78px;top:1151px;font-size:17.60px;font-weight:700;letter-spacing:0.335px;">Cannabinoids</span>
<span class="t" style="left:241.74px;top:1148px;font-size:18.81px;">Completed</span>
<span class="t" style="left:403.00px;top:1151px;font-size:17.60px;font-weight:700;letter-spacing:0.296px;">Terpenes</span>
<span class="t" style="left:601.74px;top:1148px;font-size:18.87px;">Completed</span>
<span class="t" style="left:42.32px;top:1179px;font-size:17.60px;font-weight:700;letter-spacing:0.350px;">Residual Solvents</span>
<span class="t" style="left:241.13px;top:1174px;font-size:19.10px;color:#228b22;">PASS</span>
<span class="t" style="left:402.02px;top:1179px;font-size:17.60px;font-weight:700;letter-spacing:0.415px;">Heavy Metals</span>
<span class="t" style="left:601.13px;top:1174px;font-size:19.10px;color:#228b22;">PASS</span>
<span class="t" style="left:42.32px;top:1207px;font-size:17.60px;font-weight:700;letter-spacing:0.370px;">Pesticides</span>
<span class="t" style="left:241.13px;top:1202px;font-size:19.10px;color:#228b22;">PASS</span>
<span class="t" style="left:402.02px;top:1207px;font-size:17.60px;font-weight:700;letter-spacing:0.431px;">Mycotoxins</span>
<span class="t" style="left:601.13px;top:1202px;font-size:19.10px;color:#228b22;">PASS</span>
<span class="t" style="left:42.32px;top:1235px;font-size:17.60px;font-weight:700;letter-spacing:0.373px;">Microbials</span>
<span class="t" style="left:241.13px;top:1230px;font-size:19.10px;color:#228b22;">PASS</span>
<span class="t" style="left:402.02px;top:1235px;font-size:17.60px;font-weight:700;letter-spacing:0.348px;">Moisture</span>
<span class="t" style="left:601.14px;top:1230px;font-size:19.02px;">Not Tested</span>
<span class="t" style="left:375.83px;top:1305px;font-size:16.32px;font-weight:700;">Copyright © 2019 Modern Canna Science, LLC. All rights reserved.</span>
<span class="t" style="left:126.12px;top:1328px;font-size:16.85px;">This report shall not be reproduced, distributed, or transmitted in any form or by any means, without written consent from Modern Canna</span>
<span class="t" style="left:111.53px;top:1349px;font-size:16.91px;">Science, LLC. &nbsp;The results in this report relate only to the products analyzed. The results in this report are confidential. For more information</span>
<span class="t" style="left:260.08px;top:1371px;font-size:16.93px;">regarding our reporting limits, please visit:</span>
<span class="t" style="left:578.85px;top:1370px;font-size:16.21px;font-weight:700;">www.moderncanna.com/modern-canna-reporting-limits/</span>
<span class="t" style="left:68.50px;top:1394px;font-size:14.97px;"><b>LOQ</b> = <i>Limit of Quantification</i></span>
<span class="t" style="left:293.50px;top:1394px;font-size:14.93px;"><b>ND</b> = <i>Non-Detect</i></span>
<span class="t" style="left:443.40px;top:1394px;font-size:14.98px;"><b>RPD</b> = <i>Relative Percent Difference</i></span>
<span class="t" style="left:706.21px;top:1394px;font-size:14.87px;"><b>MDL</b> = <i>Method Detection Limit</i></span>
<span class="t" style="left:968.70px;top:1394px;font-size:14.88px;"><b>PQL</b> = <i>Practical Quantitation Limit</i></span>
<span class="t" style="left:210.56px;top:1518px;font-size:16.93px;">806 W Beacon Rd</span>
<span class="t" style="left:209.91px;top:1542px;font-size:17.00px;">Lakeland, FL 33803</span>
<span class="t" style="left:211.32px;top:1566px;font-size:16.98px;">www.moderncanna.com</span>
<span class="t" style="left:590.13px;top:1548px;font-size:18.05px;font-weight:700;">Jini Curry</span>
<span class="t" style="left:590.39px;top:1574px;font-size:16.72px;font-style:italic;">Lab Director</span>
<span class="t" style="left:1096.88px;top:1615px;font-size:20.94px;">Page 3 of 8</span>
</body></html>
